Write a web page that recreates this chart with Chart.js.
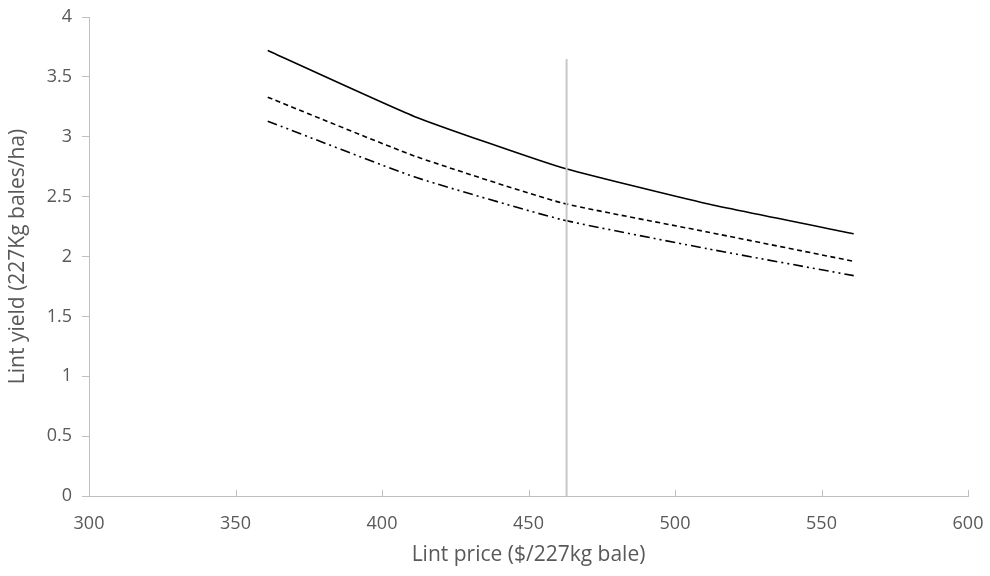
<!DOCTYPE html>
<html>
<head>
<meta charset="utf-8">
<script src="https://cdn.jsdelivr.net/npm/chart.js@4.4.0/dist/chart.umd.min.js"></script>
<style>
html,body{margin:0;padding:0;background:#fff;}
#wrap{width:990px;height:576px;position:relative;}
</style>
</head>
<body>
<div id="wrap"><canvas id="c" width="990" height="576"></canvas></div>
<script>
const prices = [361, 411, 461, 511, 561];
const yieldSolid = [3.72, 3.17, 2.745, 2.44, 2.19];
const yieldDashed = [3.33, 2.84, 2.45, 2.205, 1.96];
const yieldDashDot = [3.13, 2.665, 2.31, 2.065, 1.84];
const markerPrice = [463, 463];
const markerYield = [0, 3.65];
const xTicks = [300, 350, 400, 450, 500, 550, 600];
const yTicks = [0, 0.5, 1, 1.5, 2, 2.5, 3, 3.5, 4];

const toPts = (xs, ys) => xs.map((x, i) => ({x: x, y: ys[i]}));
const TXT = '#595959';
const AX = '#bfbfbf';
const FONT = '"Open Sans", "Liberation Sans", sans-serif';

const xTickPlugin = {
  id: 'xTicksUp',
  afterDraw(chart) {
    const xs = chart.scales.x, ctx = chart.ctx;
    const yb = chart.chartArea.bottom;
    ctx.save();
    ctx.strokeStyle = AX; ctx.lineWidth = 1;
    xs.ticks.forEach(t => {
      const px = Math.round(xs.getPixelForValue(t.value)) + 0.5;
      ctx.beginPath(); ctx.moveTo(px, yb); ctx.lineTo(px, yb - 6); ctx.stroke();
    });
    ctx.restore();
  }
};

new Chart(document.getElementById('c'), {
  type: 'line',
  data: {
    datasets: [
      {data: toPts(markerPrice, markerYield), borderColor: '#c8c8c8', borderWidth: 2, pointRadius: 0, tension: 0},
      {data: toPts(prices, yieldSolid), borderColor: '#000', borderWidth: 1.6, pointRadius: 0, tension: 0.15},
      {data: toPts(prices, yieldDashed), borderColor: '#000', borderWidth: 1.6, borderDash: [5, 3.5], pointRadius: 0, tension: 0.15},
      {data: toPts(prices, yieldDashDot), borderColor: '#000', borderWidth: 1.6, borderDash: [10, 4, 2, 4, 2, 4], pointRadius: 0, tension: 0.15}
    ]
  },
  options: {
    responsive: false,
    animation: false,
    events: [],
    layout: {padding: {left: 0, right: 22, top: 17, bottom: 0}},
    plugins: {legend: {display: false}, tooltip: {enabled: false}},
    scales: {
      x: {
        type: 'linear', min: 300, max: 600,
        afterBuildTicks: s => { s.ticks = xTicks.map(v => ({value: v})); },
        grid: {display: true, drawOnChartArea: false, drawTicks: false},
        border: {display: true, color: AX, width: 1},
        ticks: {color: TXT, font: {family: FONT, size: 18}, padding: 17, maxRotation: 0, callback: v => String(v)},
        title: {display: true, text: 'Lint price ($/227kg bale)', color: TXT, font: {family: FONT, size: 21}, padding: {top: 0, bottom: 8}},
        afterFit: s => { s.height = 80; s.paddingLeft = 0; s.paddingRight = 0; }
      },
      y: {
        type: 'linear', min: 0, max: 4,
        afterBuildTicks: s => { s.ticks = yTicks.map(v => ({value: v})); },
        grid: {display: true, drawOnChartArea: false, drawTicks: true, tickLength: 7, color: AX},
        border: {display: true, color: AX, width: 1},
        ticks: {color: TXT, font: {family: FONT, size: 18}, padding: 10, callback: v => String(v)},
        title: {display: true, text: 'Lint yield (227Kg bales/ha)', color: TXT, font: {family: FONT, size: 21}, padding: {top: 5, bottom: 0}},
        afterFit: s => { s.width = 89; s.paddingTop = 0; s.paddingBottom = 0; }
      }
    }
  },
  plugins: [xTickPlugin]
});
</script>
</body>
</html>
